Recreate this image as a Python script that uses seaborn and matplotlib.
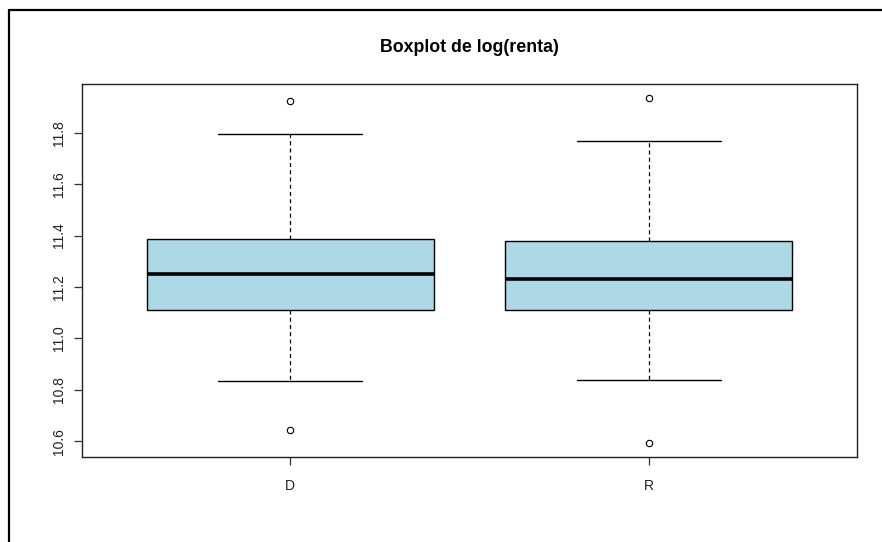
import matplotlib
matplotlib.use("Agg")
import matplotlib.pyplot as plt
from matplotlib.lines import Line2D
import numpy as np
import pandas as pd
import seaborn as sns

# Groups and their summary values of log(renta)
groups = ["D", "R"]
low_outlier = [10.643, 10.592]
lower_whisker = [10.833, 10.837]
lower_hinge = [11.109, 11.112]
median = [11.252, 11.231]
upper_hinge = [11.386, 11.380]
upper_whisker = [11.796, 11.769]
high_outlier = [11.924, 11.936]

y_ticks = [10.6, 10.8, 11.0, 11.2, 11.4, 11.6, 11.8]

# Long-form table: hinges are listed twice so the quartiles land exactly on them
rows = []
for i, g in enumerate(groups):
    vals = [low_outlier[i], lower_whisker[i], lower_hinge[i], lower_hinge[i],
            median[i], upper_hinge[i], upper_hinge[i], upper_whisker[i],
            high_outlier[i]]
    rows += [(g, v) for v in vals]
df = pd.DataFrame(rows, columns=["partido", "log_renta"])

sns.set_style("ticks")
plt.rcParams["font.family"] = ["Liberation Sans", "DejaVu Sans"]

fig = plt.figure(figsize=(8.82, 5.42), dpi=100)
ax = fig.add_axes([82 / 882, 85 / 542, 775 / 882, 373 / 542])

sns.boxplot(
    data=df, x="partido", y="log_renta", order=groups, ax=ax,
    width=0.8, whis=1.5, color="#ADD8E6", saturation=1,
    linecolor="black", linewidth=1,
    boxprops=dict(facecolor="#ADD8E6", edgecolor="black", linewidth=1),
    medianprops=dict(color="black", linewidth=2.6),
    whiskerprops=dict(color="black", linewidth=0.9, linestyle=(0, (3.2, 2.6))),
    capprops=dict(color="black", linewidth=1),
    flierprops=dict(marker="o", markerfacecolor="none", markeredgecolor="black",
                    markersize=4.6, markeredgewidth=0.8),
)

ax.set_xlim(0.42 - 1, 2.58 - 1)
ax.set_ylim(10.538, 11.990)
ax.set_yticks(y_ticks)
ax.set_yticklabels([f"{t:.1f}" for t in y_ticks], rotation=90, va="center")
ax.set_xlabel("")
ax.set_ylabel("")
ax.tick_params(axis="both", length=5.5, width=0.9, color="#333333",
               labelsize=10, labelcolor="#222222")
ax.tick_params(axis="x", pad=10)
ax.tick_params(axis="y", pad=6)
for s in ax.spines.values():
    s.set_visible(True)
    s.set_color("#222222")
    s.set_linewidth(1)

fig.text(469 / 882, 1 - 48 / 542, "Boxplot de log(renta)", ha="center",
         va="center", fontsize=12.8, fontweight="bold", color="black")

# Outer frame along the top and left edges
fig.add_artist(Line2D([9 / 882, 9 / 882], [0, 1 - 10 / 542], color="black",
                      linewidth=1.6, transform=fig.transFigure))
fig.add_artist(Line2D([9 / 882, 1], [1 - 10 / 542, 1 - 10 / 542], color="black",
                      linewidth=1.6, transform=fig.transFigure))

fig.savefig("out.png", dpi=100)
